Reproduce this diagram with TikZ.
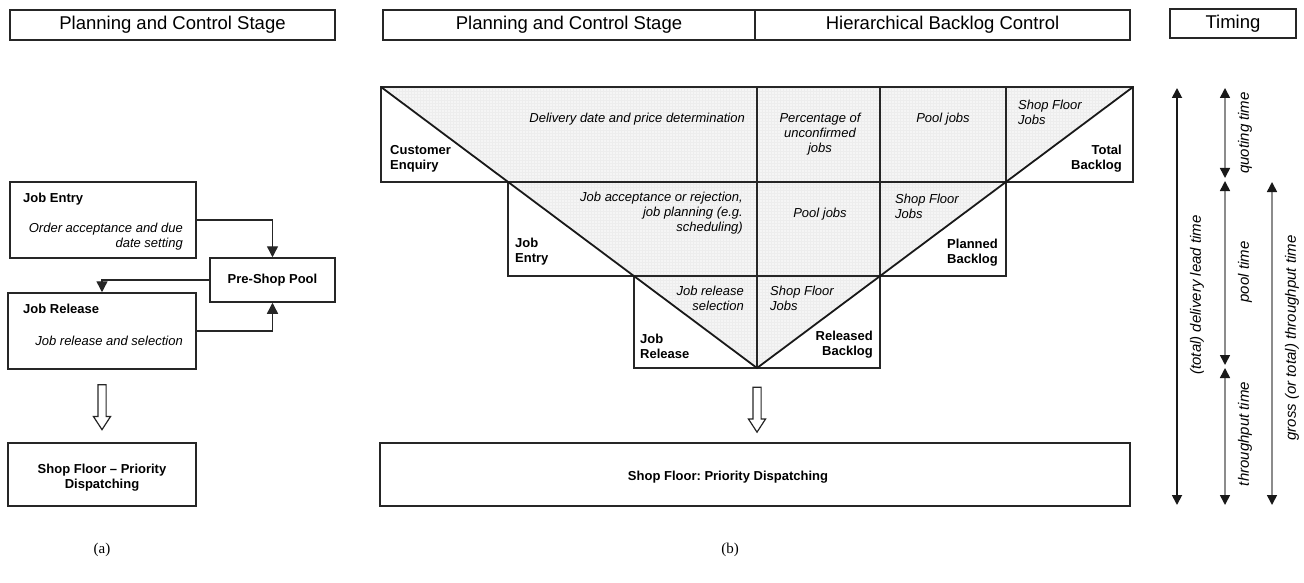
\documentclass[tikz,border=0pt]{standalone}
\usepackage{fontspec}
\setmainfont{Liberation Sans}
\newfontfamily\serifcap{Liberation Serif}
\usetikzlibrary{positioning,arrows.meta,shapes.arrows,patterns}
\frenchspacing

\begin{document}
\begin{tikzpicture}[x=1pt, y=-1pt,
headbox/.style={rectangle, draw=black!85, line width=1.2pt, minimum height=30pt, inner sep=0pt, font=\fontsize{18.5}{22}\selectfont},
stagebox/.style={rectangle, draw=black!85, line width=1.5pt, inner sep=0pt},
cell/.style={draw=black!85, line width=1.4pt},
boldtext/.style={inner sep=0pt, font=\fontsize{13}{15}\selectfont\bfseries},
itext/.style={inner sep=0pt, font=\fontsize{13}{15}\selectfont\itshape},
timetext/.style={inner sep=0pt, rotate=90, font=\fontsize{15}{18}\selectfont\itshape},
flow/.style={-{Triangle[width=11pt,length=11pt]}, draw=black!85, line width=1.4pt},
hollow/.style={single arrow, draw=black!85, line width=1.2pt, rotate=-90, minimum height=45pt, inner sep=3.5pt, single arrow head extend=4.5pt, single arrow tip angle=66},
leadspan/.style={{Triangle[width=10pt,length=10pt]}-{Triangle[width=10pt,length=10pt]}, draw=black!90, line width=1.8pt},
partspan/.style={{Triangle[width=10pt,length=10pt,color=black!90]}-{Triangle[width=10pt,length=10pt,color=black!90]}, draw=black!45, line width=1.6pt},
]
\useasboundingbox (0,0) rectangle (1304,583);

%Headers
\node[headbox, minimum width=325pt] (hdrA)   at (172.5,25) {Planning and Control Stage};
\node[headbox, minimum width=372pt] (hdrB)   at (569,25)   {Planning and Control Stage};
\node[headbox, minimum width=375pt] (hdrC)   at (942.5,25) {Hierarchical Backlog Control};
\node[headbox, minimum width=126pt, minimum height=29pt] (hdrT) at (1233,23.5) {Timing};

%Nodes (a)
\node[stagebox, minimum width=186pt, minimum height=76pt] (jobentry)   at (103,220) {};
\node[stagebox, minimum width=125pt, minimum height=44pt] (preshop)    at (272.5,280) {};
\node[stagebox, minimum width=188pt, minimum height=76pt] (jobrelease) at (102,331) {};
\node[stagebox, minimum width=188pt, minimum height=63pt] (shopfloorA) at (102,474.5) {};
\node[boldtext, anchor=base west] (jeTitle) at (23,202) {Job Entry};
\node[itext, align=right, anchor=east] (jeText) at (183,237) {Order acceptance and due\\date setting};
\node[boldtext] (psTitle) at (preshop.center) {Pre-Shop Pool};
\node[boldtext, anchor=base west] (jrTitle) at (23,313) {Job Release};
\node[itext, anchor=base east] (jrText) at (183,345) {Job release and selection};
\node[boldtext, align=center] (sfTitleA) at (102,478) {Shop Floor -- Priority\\Dispatching};
\node[hollow] (downA) at (102,404) {};
\node[inner sep=0pt, font=\serifcap\fontsize{15}{18}\selectfont] (capA) at (102,550) {(a)};

%Lines (a)
\draw[flow] (jobentry.east) -| (preshop.north);
\draw[flow] (preshop.west) -| (jobrelease.north);
\draw[flow] (jobrelease.east) -| (preshop.south);

%Backlog funnel (b)
\coordinate (vl) at (381,87);
\coordinate (vr) at (1133,87);
\coordinate (vb) at (757,368);
\fill[black!4] (vl) -- (vr) -- (vb) -- cycle;
\fill[pattern=grid, pattern color=black!7] (vl) -- (vr) -- (vb) -- cycle;
\draw[cell] (381,87) rectangle (1133,182);
\draw[cell] (508,182) rectangle (1006,276);
\draw[cell] (634,276) rectangle (880,368);
\draw[cell] (757,87) -- (757,368);
\draw[cell] (880,87) -- (880,276);
\draw[cell] (1006,87) -- (1006,182);
\draw[line width=1.8pt, black!90] (vl) -- (vb) -- (vr);

%Cell texts
\node[itext, anchor=base east] (delivery) at (745,123) {Delivery date and price determination};
\node[boldtext, align=left, anchor=west] (enquiry) at (390,159) {Customer\\Enquiry};
\node[itext, align=center] (unconf) at (820,134) {Percentage of\\unconfirmed\\jobs};
\node[itext, anchor=base] (poolA) at (943,123) {Pool jobs};
\node[itext, align=left, anchor=west] (sfjA) at (1018,112) {Shop Floor\\Jobs};
\node[boldtext, align=right, anchor=east] (totalbl) at (1122,159) {Total\\Backlog};
\node[itext, align=right, anchor=east] (accept) at (743,213) {Job acceptance or rejection,\\job planning (e.g.\\scheduling)};
\node[boldtext, align=left, anchor=west] (entryB) at (515,252) {Job\\Entry};
\node[itext, anchor=base] (poolB) at (820,217) {Pool jobs};
\node[itext, align=left, anchor=west] (sfjB) at (895,206) {Shop Floor\\Jobs};
\node[boldtext, align=right, anchor=east] (plannedbl) at (998,253) {Planned\\Backlog};
\node[itext, align=right, anchor=east] (relsel) at (744,298) {Job release\\selection};
\node[itext, align=left, anchor=west] (sfjC) at (770,298) {Shop Floor\\Jobs};
\node[boldtext, align=left, anchor=west] (releaseB) at (640,346) {Job\\Release};
\node[boldtext, align=right, anchor=east] (releasedbl) at (873,345) {Released\\Backlog};

%Shop floor (b)
\node[hollow] (downB) at (757,406.5) {};
\node[stagebox, minimum width=750pt, minimum height=63pt] (shopfloorB) at (755,474.5) {};
\node[boldtext, anchor=base] (sfTitleB) at (728,480) {Shop Floor: Priority Dispatching};
\node[inner sep=0pt, font=\serifcap\fontsize{15}{18}\selectfont] (capB) at (730,550) {(b)};

%Timing
\coordinate (leadTop) at (1177,88);
\coordinate (leadBot) at (1177,505);
\coordinate (quoteTop) at (1225,88);
\coordinate (quoteBot) at (1225,178);
\coordinate (poolTop) at (1225,181);
\coordinate (poolBot) at (1225,365);
\coordinate (thruTop) at (1225,368);
\coordinate (thruBot) at (1225,505);
\coordinate (grossTop) at (1272,182);
\coordinate (grossBot) at (1272,505);
\draw[leadspan] (leadTop) -- (leadBot);
\draw[partspan] (quoteTop) -- (quoteBot);
\draw[partspan] (poolTop) -- (poolBot);
\draw[partspan] (thruTop) -- (thruBot);
\draw[partspan] (grossTop) -- (grossBot);
\node[timetext] (leadLbl) at (1197,295) {(total) delivery lead time};
\node[timetext] (quoteLbl) at (1245,133) {quoting time};
\node[timetext] (poolLbl) at (1245,272) {pool time};
\node[timetext] (thruLbl) at (1245,434) {throughput time};
\node[timetext] (grossLbl) at (1292,338) {gross (or total) throughput time};

\end{tikzpicture}
\end{document}
